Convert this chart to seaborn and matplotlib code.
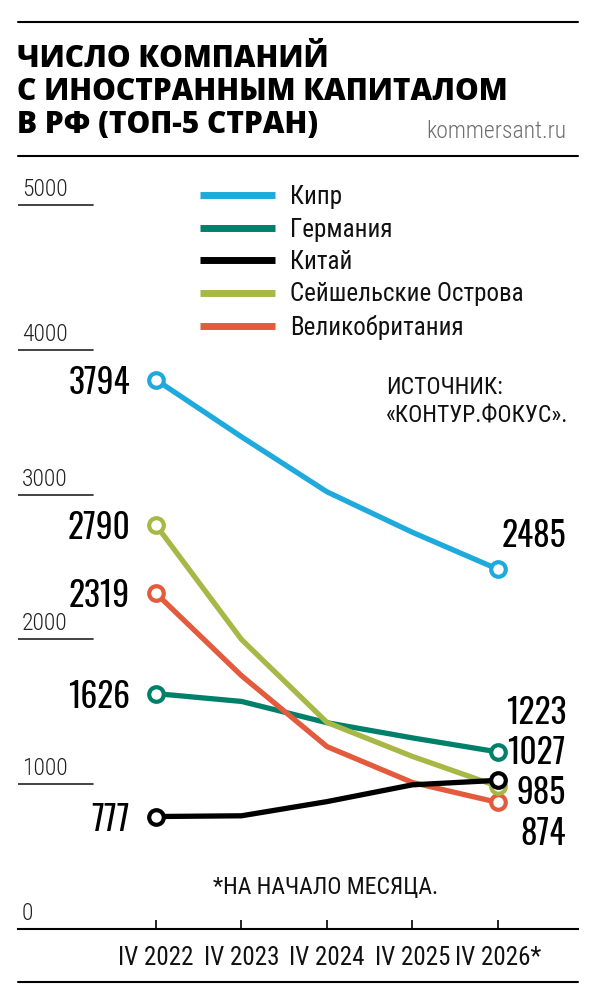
import matplotlib
matplotlib.use("Agg")
import numpy as np
import pandas as pd
import seaborn as sns
from matplotlib import pyplot as plt
from matplotlib import font_manager
from matplotlib.lines import Line2D

# Values
years = ["IV 2022", "IV 2023", "IV 2024", "IV 2025", "IV 2026*"]
cyprus = [3794, 3400, 3020, 2740, 2485]
germany = [1626, 1572, 1425, 1320, 1223]
china = [777, 782, 880, 996, 1027]
seychelles = [2790, 2000, 1427, 1192, 985]
uk = [2319, 1750, 1260, 1012, 874]

countries = ["Кипр", "Германия", "Китай", "Сейшельские Острова", "Великобритания"]
yticks = [0, 1000, 2000, 3000, 4000, 5000]
title_lines = ["ЧИСЛО КОМПАНИЙ", "С ИНОСТРАННЫМ КАПИТАЛОМ", "В РФ (ТОП-5 СТРАН)"]

colors = ["#1eaadc", "#00806a", "#000000", "#a7b846", "#e35a3d"]
draw_order = ["Кипр", "Германия", "Великобритания", "Сейшельские Острова", "Китай"]

sns.set_theme(style="white")
avail = {f.name for f in font_manager.fontManager.ttflist}


def pick(*names):
    for n in names:
        if n in avail:
            return n
    return "DejaVu Sans"


cond = pick("Roboto Condensed", "PT Sans Narrow", "Liberation Sans Narrow")
numfont = pick("Oswald", "PT Sans Narrow", "Roboto Condensed")
heavy = pick("Open Sans", "Roboto", "Noto Sans")
plt.rcParams["font.family"] = [cond, "DejaVu Sans"]

W, H = 591, 1000


def fx(px):
    return px / W


def fy(py):
    return 1 - py / H


fig = plt.figure(figsize=(W / 100, H / 100), dpi=100)
fig.patch.set_facecolor("white")

# header
for yy in (22, 156, 982):
    fig.add_artist(Line2D([fx(18), fx(578)], [fy(yy), fy(yy)], color="black", lw=1.5))
for line, base in zip(title_lines, (67, 100, 133)):
    fig.text(fx(17), fy(base), line, family=[heavy, "DejaVu Sans"], fontweight=800,
             fontsize=21.5, va="baseline", ha="left", color="black")
fig.text(fx(566), fy(138), "kommersant.ru", ha="right", va="baseline",
         fontsize=17, fontweight="light", color="#6e6e6e")

# plot area
ax = fig.add_axes([fx(18), fy(929), fx(578) - fx(18), fy(170) - fy(929)])
ax.set_facecolor("none")

df = pd.DataFrame({
    "year": years * len(countries),
    "country": np.repeat(countries, len(years)),
    "value": cyprus + germany + china + seychelles + uk,
})

sns.lineplot(data=df, x="year", y="value", hue="country", hue_order=draw_order,
             palette=dict(zip(countries, colors)), lw=3.8, marker="o",
             markevery=[0, len(years) - 1], markersize=10.5, markerfacecolor="white",
             markeredgewidth=3, solid_joinstyle="round", solid_capstyle="round",
             legend=False, ax=ax)
for line in ax.lines:
    line.set_markeredgecolor(line.get_color())

ax.set_xlim(-1.614, 4.936)
ax.set_ylim(0, 5243)
ax.set_xlabel("")
ax.set_ylabel("")
ax.set_yticks([])
sns.despine(ax=ax, left=True, top=True, right=True)
ax.spines["bottom"].set_color("black")
ax.spines["bottom"].set_linewidth(1.5)
ax.tick_params(axis="x", direction="in", length=6.5, width=1.2, color="black",
               labelsize=18, pad=12, bottom=True, labelcolor="#111111")

# y scale marks
for v in yticks:
    ax.axhline(v, xmin=0, xmax=75 / 560, color="#222222", lw=1.2)
    ax.annotate(f"{v}", xy=(0, v), xycoords=("axes fraction", "data"),
                xytext=(4, 4), textcoords="offset pixels", ha="left", va="bottom",
                fontsize=17, fontweight="light", color="#222222")

# value labels
series = dict(zip(countries, [cyprus, germany, china, seychelles, uk]))
right_dy = {"Кипр": 36, "Германия": 42, "Китай": 30,
            "Сейшельские Острова": -4, "Великобритания": -29}
for name, vals in series.items():
    ax.annotate(f"{vals[0]}", xy=(years[0], vals[0]), xytext=(-26, 0),
                textcoords="offset pixels", ha="right", va="center_baseline",
                fontsize=24, family=[numfont, "DejaVu Sans"], fontweight="bold",
                color="black")
    ax.annotate(f"{vals[-1]}", xy=(years[-1], vals[-1]), xytext=(68, right_dy[name]),
                textcoords="offset pixels", ha="right", va="center_baseline",
                fontsize=24, family=[numfont, "DejaVu Sans"], fontweight="bold",
                color="black")

# legend
handles = [Line2D([], [], color=c, lw=5, solid_capstyle="butt") for c in colors]
fig.legend(handles, countries, loc="upper left", bbox_to_anchor=(fx(200), fy(185)),
           frameon=False, fontsize=18, handlelength=3.0, handletextpad=0.6,
           labelspacing=0.34, borderpad=0, borderaxespad=0, labelcolor="#111111")

fig.text(fx(386), fy(376), "ИСТОЧНИК:\n«КОНТУР.ФОКУС».", ha="left", va="top",
         fontsize=17, linespacing=1.3, color="#111111")
fig.text(fx(326), fy(888), "*НА НАЧАЛО МЕСЯЦА.", ha="center", va="center",
         fontsize=17, color="#111111")

fig.savefig("out.png", dpi=100)
